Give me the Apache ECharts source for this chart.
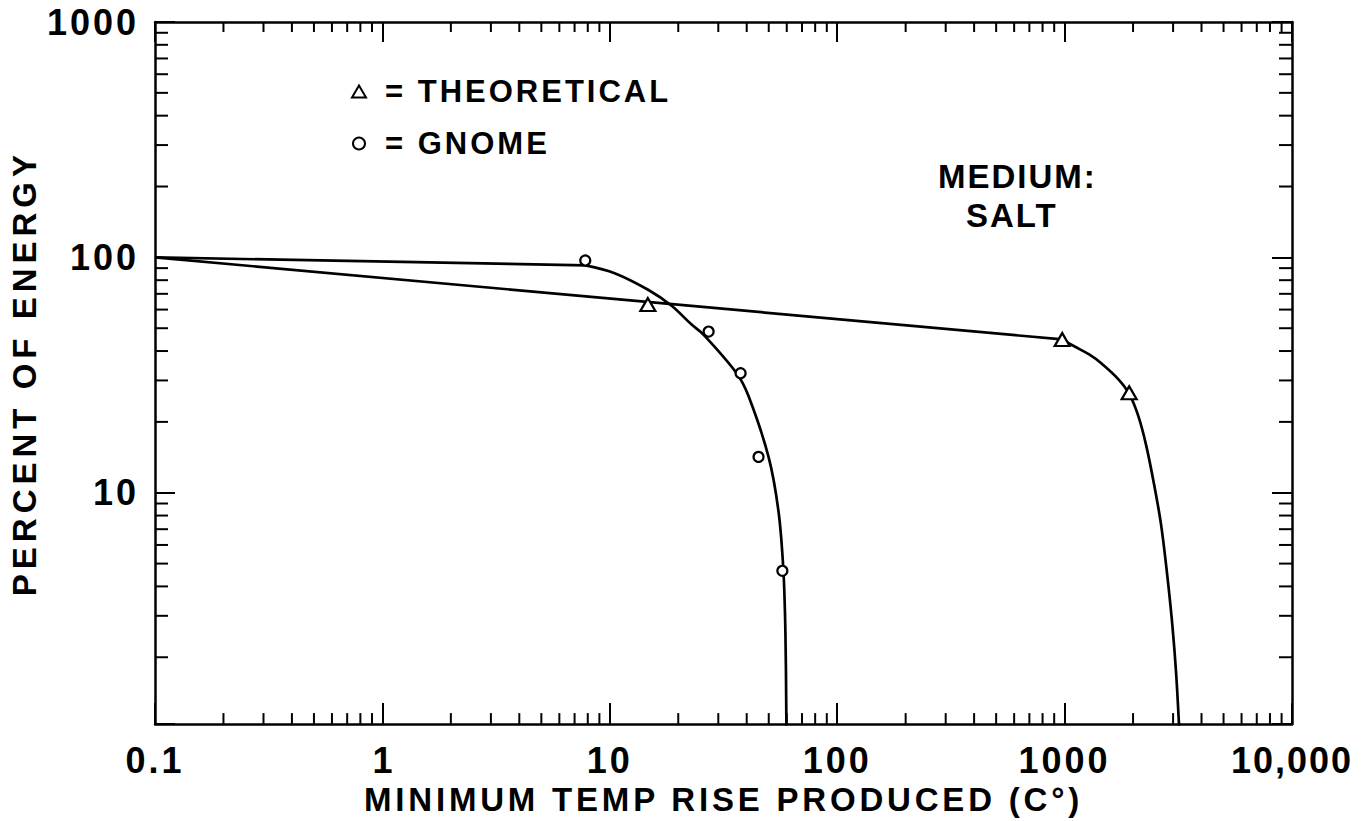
<!DOCTYPE html>
<html>
<head>
<meta charset="utf-8">
<script src="https://cdn.jsdelivr.net/npm/echarts/dist/echarts.min.js"></script>
<style>
  html, body { margin: 0; padding: 0; background: #fff; }
  #chart { width: 1367px; height: 821px; }
</style>
</head>
<body>
<div id="chart"></div>
<script>
// Axis tick labels (log decades)
const xTickLabels = ['0.1', '1', '10', '100', '1000', '10,000'];
const yTickLabels = ['1', '10', '100', '1000'];
const minorSteps = [2, 3, 4, 5, 6, 7, 8, 9];
const xDecades = [0.1, 1, 10, 100, 1000];
const yDecades = [1, 10, 100];

// Theoretical curve: straight run to ~1000 C°, then the bend down
const theoreticalCurve = [
  [0.1, 100], [976, 44.8], [1102, 41.9], [1282, 38.7], [1449, 35.5],
  [1721, 30.4], [1923, 26.3], [2105, 21.3], [2284, 15.9], [2477, 10.8],
  [2655, 7.34], [2823, 4.52], [2972, 2.79], [3092, 1.72], [3190, 1.0]
];
const theoreticalPoints = [[14.7, 63], [976, 44.8], [1923, 26.6]];

// GNOME curve and measured points
const gnomeCurve = [
  [0.1, 100], [7.83, 92.5], [10.5, 85.7], [14.8, 72.7], [18.7, 62.3],
  [22.9, 51.8], [25.8, 47.0], [36.1, 32.2], [40.7, 25.8], [49.9, 14.2],
  [55.2, 8.32], [58.0, 4.66], [59.2, 2.53], [59.8, 1.0]
];
const gnomePoints = [[7.8, 97], [27.2, 48.4], [37.6, 32.2], [45.1, 14.2], [57.4, 4.66]];

const xMinorTicks = [];
xDecades.forEach(d => minorSteps.forEach(s => xMinorTicks.push(d * s)));
const yMinorTicks = [];
yDecades.forEach(d => minorSteps.forEach(s => yMinorTicks.push(d * s)));

const FONT = 'Liberation Sans';
const INK = '#000';

function decadeLabel(labels, offset) {
  return function (v) {
    const l = Math.log10(v);
    const e = Math.round(l);
    if (Math.abs(l - e) > 1e-6) return '';
    return labels[e + offset] || '';
  };
}

const axisLineStyle = { lineStyle: { color: INK, width: 2.5 } };
const curveStyle = { color: INK, width: 2.7 };

const chart = echarts.init(document.getElementById('chart'), null, { renderer: 'svg' });

const option = {
  animation: false,
  backgroundColor: '#fff',
  grid: { left: 153, right: 75, top: 22, bottom: 89 },
  legend: {
    orient: 'vertical',
    left: 346,
    top: 71,
    itemGap: 21,
    itemWidth: 14,
    itemHeight: 12,
    selectedMode: false,
    formatter: '= {name}',
    textStyle: {
      fontFamily: FONT, fontWeight: 'bold', fontSize: 31, color: INK,
      padding: [0, 0, 0, 14]
    },
    data: [
      { name: 'THEORETICAL', icon: 'triangle' },
      { name: 'GNOME', icon: 'circle' }
    ]
  },
  xAxis: [
    {
      type: 'log', logBase: 10, min: 0.1, max: 10000, position: 'bottom',
      axisLine: axisLineStyle,
      axisTick: { inside: true, length: 21, lineStyle: { color: INK, width: 2 } },
      axisLabel: {
        formatter: decadeLabel(xTickLabels, 1), margin: 18, showMinLabel: true, showMaxLabel: true,
        fontFamily: FONT, fontWeight: 'bold', fontSize: 36, color: INK
      },
      splitLine: { show: false },
      name: 'MINIMUM TEMP RISE PRODUCED (C°)',
      nameLocation: 'middle',
      nameGap: 52,
      nameTextStyle: { fontFamily: FONT, fontWeight: 'bold', fontSize: 33, color: INK }
    },
    {
      type: 'log', logBase: 10, min: 0.1, max: 10000, position: 'top',
      axisLine: axisLineStyle,
      axisTick: { inside: true, length: 20, lineStyle: { color: INK, width: 2 } },
      axisLabel: { show: false },
      splitLine: { show: false }
    }
  ],
  yAxis: [
    {
      type: 'log', logBase: 10, min: 1.04, max: 1000, position: 'left',
      axisLine: axisLineStyle,
      axisTick: { inside: true, length: 20, lineStyle: { color: INK, width: 2 } },
      axisLabel: {
        formatter: decadeLabel(yTickLabels, 0), margin: 16, showMaxLabel: true,
        fontFamily: FONT, fontWeight: 'bold', fontSize: 36, color: INK
      },
      splitLine: { show: false },
      name: 'PERCENT OF ENERGY',
      nameLocation: 'middle',
      nameRotate: 90,
      nameGap: 114,
      nameTextStyle: { fontFamily: FONT, fontWeight: 'bold', fontSize: 33, color: INK }
    },
    {
      type: 'log', logBase: 10, min: 1.04, max: 1000, position: 'right',
      axisLine: axisLineStyle,
      axisTick: { inside: true, length: 20, lineStyle: { color: INK, width: 2 } },
      axisLabel: { show: false },
      splitLine: { show: false }
    }
  ],
  graphic: [
    {
      type: 'text', left: 938, top: 160, silent: true,
      style: { text: 'MEDIUM:', font: 'bold 33px "Liberation Sans"', fill: INK }
    },
    {
      type: 'text', left: 966, top: 199, silent: true,
      style: { text: 'SALT', font: 'bold 33px "Liberation Sans"', fill: INK }
    }
  ],
  series: [
    {
      type: 'line', data: theoreticalCurve.slice(0, 2), symbol: 'none',
      lineStyle: curveStyle, silent: true, z: 2
    },
    {
      type: 'line', data: theoreticalCurve.slice(1), symbol: 'none', smooth: 0.35,
      lineStyle: curveStyle, silent: true, z: 2
    },
    {
      type: 'line', data: gnomeCurve.slice(0, 2), symbol: 'none',
      lineStyle: curveStyle, silent: true, z: 2
    },
    {
      type: 'line', data: gnomeCurve.slice(1), symbol: 'none', smooth: 0.35,
      lineStyle: curveStyle, silent: true, z: 2
    },
    {
      name: 'THEORETICAL', type: 'scatter', data: theoreticalPoints,
      symbol: 'triangle', symbolSize: [15, 13], z: 5,
      itemStyle: { color: '#fff', borderColor: INK, borderWidth: 2.2, opacity: 1 }
    },
    {
      name: 'GNOME', type: 'scatter', data: gnomePoints,
      symbol: 'circle', symbolSize: 10, z: 5,
      itemStyle: { color: '#fff', borderColor: INK, borderWidth: 2.2, opacity: 1 }
    },
    {
      // minor ticks on the bottom and top edges
      type: 'custom', silent: true, z: 3,
      data: xMinorTicks.map(v => [v, 10]),
      renderItem: function (params, api) {
        const cs = params.coordSys;
        const px = api.coord([api.value(0), api.value(1)])[0];
        const st = { stroke: INK, lineWidth: 2 };
        return {
          type: 'group', children: [
            { type: 'line', shape: { x1: px, y1: cs.y + cs.height, x2: px, y2: cs.y + cs.height - 11 }, style: st },
            { type: 'line', shape: { x1: px, y1: cs.y, x2: px, y2: cs.y + 10 }, style: st }
          ]
        };
      }
    },
    {
      // minor ticks on the left and right edges
      type: 'custom', silent: true, z: 3,
      data: yMinorTicks.map(v => [1, v]),
      renderItem: function (params, api) {
        const cs = params.coordSys;
        const py = api.coord([api.value(0), api.value(1)])[1];
        const st = { stroke: INK, lineWidth: 2 };
        return {
          type: 'group', children: [
            { type: 'line', shape: { x1: cs.x, y1: py, x2: cs.x + 13, y2: py }, style: st },
            { type: 'line', shape: { x1: cs.x + cs.width, y1: py, x2: cs.x + cs.width - 13, y2: py }, style: st }
          ]
        };
      }
    }
  ]
};

chart.setOption(option);

// Hand-lettered look: open up the letter spacing of the captions and numbers
const letterSpacing = {
  'PERCENT OF ENERGY': 5,
  'MINIMUM TEMP RISE PRODUCED (C°)': 3.8,
  '= THEORETICAL': 3,
  '= GNOME': 3,
  'MEDIUM:': 2,
  'SALT': 2,
  '0.1': 3, '1': 0, '10': 3, '100': 3, '1000': 3, '10,000': 2
};
function widenLettering() {
  document.querySelectorAll('#chart text').forEach(function (t) {
    const s = letterSpacing[t.textContent.trim()];
    if (s != null) t.style.letterSpacing = s + 'px';
  });
}
widenLettering();
chart.on('finished', widenLettering);
</script>
</body>
</html>
